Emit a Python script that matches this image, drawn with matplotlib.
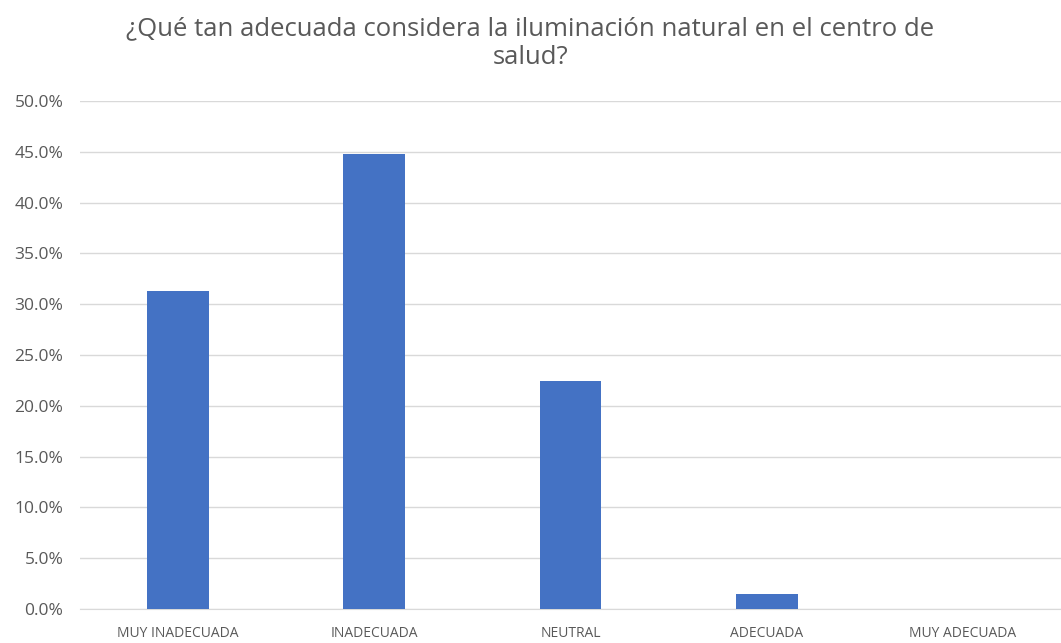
import matplotlib
matplotlib.use('Agg')
import matplotlib.pyplot as plt
from matplotlib.ticker import PercentFormatter, MultipleLocator

categories = ['MUY INADECUADA', 'INADECUADA', 'NEUTRAL', 'ADECUADA', 'MUY ADECUADA']
values = [31.3, 44.8, 22.4, 1.5, 0.0]
title = '¿Qué tan adecuada considera la iluminación natural en el centro de\nsalud?'

plt.rcParams['font.family'] = ['Open Sans', 'DejaVu Sans']

fig = plt.figure(figsize=(10.61, 6.43), dpi=100)
ax = fig.add_axes([0.0754, 0.053, 0.9246, 0.79])

x = range(len(categories))
ax.bar(x, values, width=0.315, color='#4472C4', zorder=3)

ax.set_xlim(-0.5, len(categories) - 0.5)
ax.set_ylim(0, 50)
ax.yaxis.set_major_locator(MultipleLocator(5))
ax.yaxis.set_major_formatter(PercentFormatter(decimals=1))
ax.grid(axis='y', color='#D9D9D9', linewidth=1, zorder=0)
ax.set_xticks(list(x))
ax.set_xticklabels(categories)

for s in ['top', 'right', 'left']:
    ax.spines[s].set_visible(False)
ax.spines['bottom'].set_color('#D9D9D9')
ax.tick_params(axis='both', length=0, colors='#595959')
ax.tick_params(axis='x', pad=12, labelsize=10)
ax.tick_params(axis='y', pad=12, labelsize=12.5)

fig.text(0.5, 0.975, title, ha='center', va='top', fontsize=18.5, color='#595959',
         linespacing=1.22)

fig.savefig('out.png', dpi=100)
